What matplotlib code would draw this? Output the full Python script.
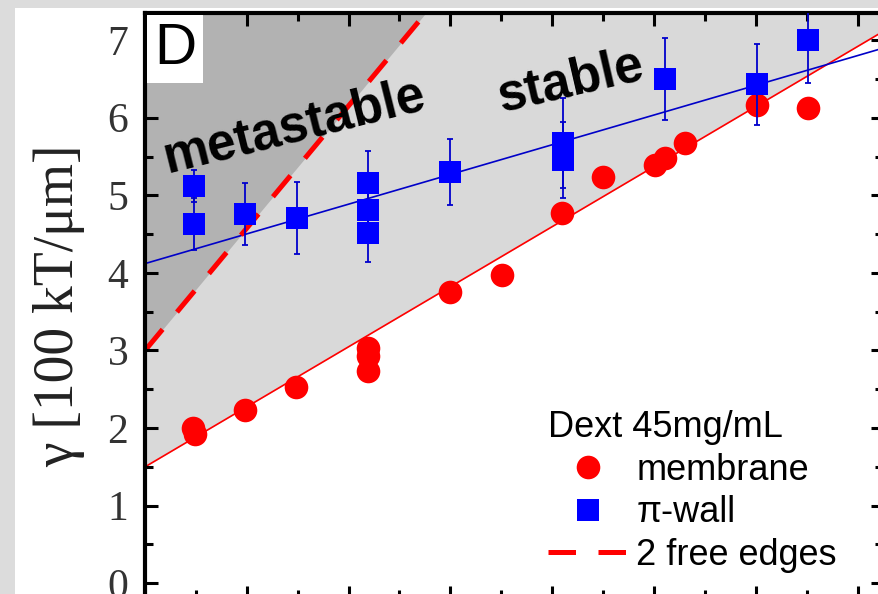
import numpy as np
import matplotlib
matplotlib.use("Agg")
import matplotlib.pyplot as plt
from matplotlib.patches import Rectangle
from matplotlib.lines import Line2D
from matplotlib.ticker import MultipleLocator

# membrane tension points (red circles)
membrane_x = [0.47, 0.49, 0.98, 1.48, 2.19, 2.19, 2.19, 3.00, 3.51, 4.10,
              4.50, 5.01, 5.11, 5.30, 6.01, 6.51]
membrane_y = [2.00, 1.92, 2.23, 2.53, 3.03, 2.93, 2.73, 3.75, 3.97, 4.77,
              5.23, 5.39, 5.48, 5.68, 6.17, 6.13]

# pi-wall tension points (blue squares) with error bars
wall_x = [0.48, 0.48, 0.98, 1.49, 2.19, 2.19, 2.19, 3.00, 4.11, 4.11,
          5.11, 6.01, 6.51]
wall_y = [5.12, 4.63, 4.76, 4.71, 5.16, 4.81, 4.52, 5.30, 5.68, 5.46,
          6.50, 6.43, 7.00]
wall_err = [0.20, 0.34, 0.40, 0.46, 0.41, 0.40, 0.38, 0.42, 0.58, 0.49,
            0.53, 0.52, 0.55]

# straight lines as (intercept, slope)
membrane_fit = (1.50, 0.774)
wall_fit = (4.12, 0.383)
edge_line = (3.00, 1.577)

legend_title = "Dext 45mg/mL"
legend_labels = ["membrane", "\u03c0-wall", "2 free edges"]

X_MIN, X_MAX = 0.0, 7.25
Y_MIN, Y_MAX = -0.19, 7.35

W, H, DPI = 879, 594, 100
AX_L, AX_R, AX_T, AX_B = 145, 883, 13, 598   # axes box in pixels

fig = plt.figure(figsize=(W / DPI, H / DPI), dpi=DPI, facecolor="#dcdcdc")
fig.add_artist(Rectangle((15 / W, 0), 1, (H - 8) / H, transform=fig.transFigure,
                         facecolor="white", edgecolor="none", zorder=-10))

ax = fig.add_axes([AX_L / W, (H - AX_B) / H, (AX_R - AX_L) / W, (AX_B - AX_T) / H])
ax.set_facecolor("white")
ax.set_xlim(X_MIN, X_MAX)
ax.set_ylim(Y_MIN, Y_MAX)

xx = np.linspace(X_MIN, X_MAX, 400)
red_line = membrane_fit[0] + membrane_fit[1] * xx
blue_line = wall_fit[0] + wall_fit[1] * xx
edge = edge_line[0] + edge_line[1] * xx

# stability regions
ax.fill_between(xx, red_line, Y_MAX, color="#d9d9d9", lw=0, zorder=0)
ax.fill_between(xx, np.minimum(edge, Y_MAX), Y_MAX, color="#b2b2b2", lw=0, zorder=0.5)

ax.plot(xx, red_line, color="red", lw=1.2, zorder=1)
ax.plot(xx, blue_line, color="#0000c8", lw=1.2, zorder=1)
ax.plot(xx, edge, color="red", lw=3.6, dashes=(5.5, 4.5), zorder=1.5)

ax.plot(membrane_x, membrane_y, "o", color="red", ms=17, mew=0, zorder=2)
ax.errorbar(wall_x, wall_y, yerr=wall_err, fmt="none", ecolor="#0000cc",
            elinewidth=1.3, capsize=2.5, capthick=1.3, zorder=3)
ax.plot(wall_x, wall_y, "s", color="blue", ms=15.5, mew=0, zorder=3.5)

# region labels
ax.text(1.47, 5.88, "metastable", rotation=14, fontsize=37, fontweight="bold",
        family="Liberation Sans", ha="center", va="center", zorder=4)
ax.text(4.18, 6.46, "stable", rotation=13, fontsize=37, fontweight="bold",
        family="Liberation Sans", ha="center", va="center", zorder=4)

# panel letter
ax.text(0.012, 0.985, "D", transform=ax.transAxes, fontsize=42,
        family="Liberation Sans", ha="left", va="top", zorder=5,
        bbox=dict(facecolor="white", edgecolor="none", pad=5))

handles = [
    Line2D([], [], ls="none", marker="o", color="red", ms=17, mew=0),
    Line2D([], [], ls="none", marker="s", color="blue", ms=15.5, mew=0),
    Line2D([], [], color="red", lw=3.6, dashes=(5.5, 4.5)),
]
leg = ax.legend(handles, legend_labels, title=legend_title, loc="upper left",
                bbox_to_anchor=((548 - AX_L) / (AX_R - AX_L),
                                (AX_B - 410) / (AX_B - AX_T)),
                frameon=False, borderpad=0, borderaxespad=0,
                handlelength=2.2, handletextpad=0.25, labelspacing=0.21,
                prop={"family": "Liberation Sans", "size": 26},
                title_fontproperties={"family": "Liberation Sans", "size": 26},
                alignment="left")
leg.set_zorder(6)

# axes styling
ax.xaxis.set_major_locator(MultipleLocator(1))
ax.xaxis.set_minor_locator(MultipleLocator(0.5))
ax.yaxis.set_major_locator(MultipleLocator(1))
ax.yaxis.set_minor_locator(MultipleLocator(0.5))
ax.tick_params(which="both", direction="in", top=True, right=True,
               labelbottom=False, width=2.2)
ax.tick_params(which="major", length=9, pad=12)
ax.tick_params(which="minor", length=6)
for lab in ax.get_yticklabels():
    lab.set_fontfamily("Liberation Serif")
    lab.set_fontsize(30)
    lab.set_color("#333333")
for sp in ax.spines.values():
    sp.set_linewidth(3)

ax.set_ylabel("\u03b3 [100 kT/\u03bcm]", family="Liberation Serif", fontsize=40,
              color="#222222", labelpad=16)

fig.savefig("out.png", dpi=DPI, facecolor=fig.get_facecolor())
